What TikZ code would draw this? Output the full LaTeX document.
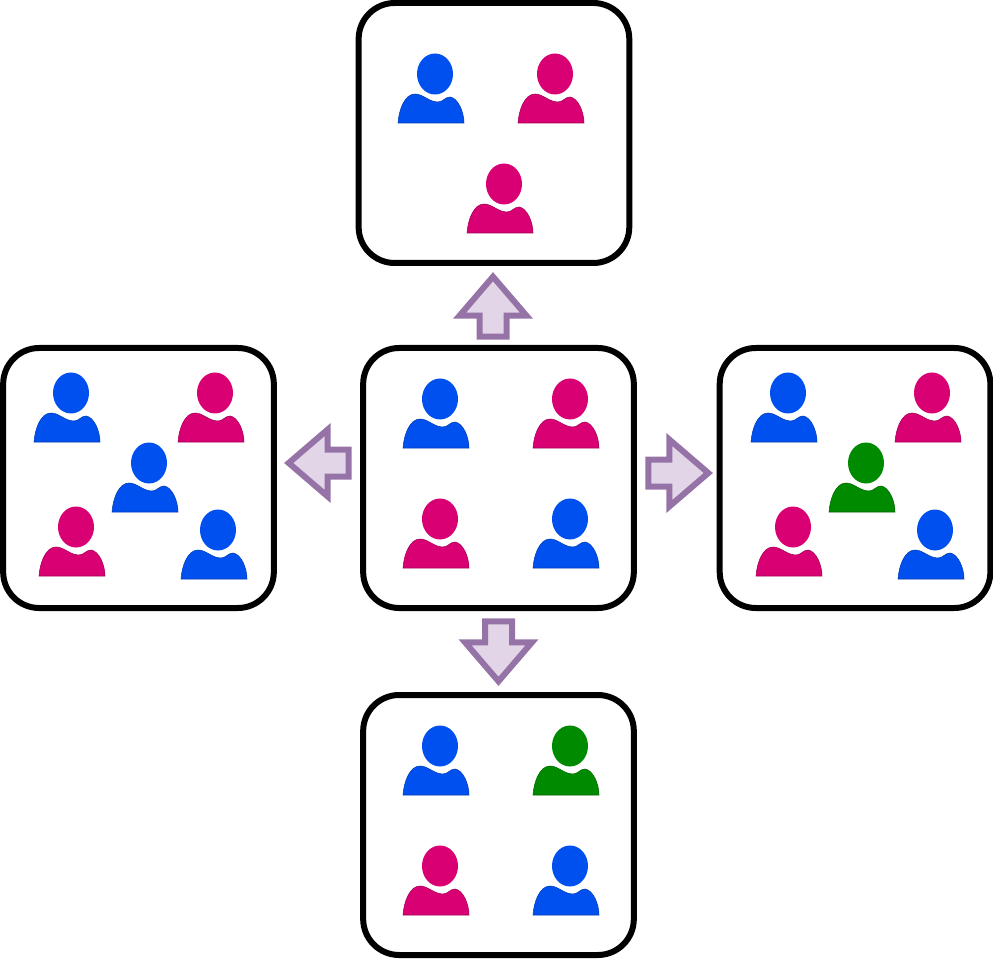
\documentclass[tikz,border=0pt]{standalone}
\usepackage{tikz}

\definecolor{userblue}{HTML}{0050EF}
\definecolor{userpink}{HTML}{D80073}
\definecolor{usergreen}{HTML}{008A00}
\definecolor{arrowfill}{HTML}{E1D5E7}
\definecolor{arrowline}{HTML}{9673A6}

\tikzset{
  group node/.style={rectangle,rounded corners=27pt,draw=black,fill=white,line width=4.5pt,
    inner sep=0pt,minimum width=203pt,minimum height=195pt},
  person/.pic={
    \fill[#1] (0,0) ellipse [x radius=18,y radius=20.5];
    \draw[fill=#1,draw=#1!75!black,line width=0.4pt] (-37,49) .. controls (-36,35) and (-30,20) .. (-20,20)
      .. controls (-12,20) and (-6,28) .. (3,28)
      .. controls (8,28) and (10,23) .. (15,23)
      .. controls (23,24) and (29,38) .. (29,49) -- cycle;
  },
  big arrow/.pic={
    \draw[fill=arrowfill,draw=arrowline,line width=4.5pt,miter limit=10]
      (0,0) -- (33.5,39) -- (13.5,39) -- (13.5,60) -- (-13.5,60) -- (-13.5,39) -- (-33.5,39) -- cycle;
  }
}

\begin{document}
\begin{tikzpicture}[x=0.75pt,y=-0.75pt]
  \useasboundingbox (0,0) rectangle (993,959);

  \node[group node] (mid) at (498.5,478) {};
  \node[group node] (top) [above of=mid,node distance=258.75pt,xshift=-3.4pt] {};
  \node[group node] (left) [left of=mid,node distance=270pt] {};
  \node[group node] (right) [right of=mid,node distance=267.4pt] {};
  \node[group node] (bottom) [below of=mid,node distance=260.25pt] {};

  \pic[rotate=0] at (493,276.7) {big arrow};
  \pic[rotate=90] at (288.7,463) {big arrow};
  \pic[rotate=-90] at (708.3,473) {big arrow};
  \pic[rotate=180] at (498.5,681.3) {big arrow};

  \foreach \hx/\hy/\hc in {435/74/userblue,555/74/userpink,504/184/userpink,
    440/399/userblue,570/399/userpink,440/519/userpink,570/519/userblue,
    71/393/userblue,215/393/userpink,149/463/userblue,76/527/userpink,218/530/userblue,
    788/393/userblue,932/393/userpink,866/463/usergreen,793/527/userpink,935/530/userblue,
    440/746/userblue,570/746/usergreen,440/866/userpink,570/866/userblue}
    \pic at (\hx,\hy) {person=\hc};
\end{tikzpicture}
\end{document}
